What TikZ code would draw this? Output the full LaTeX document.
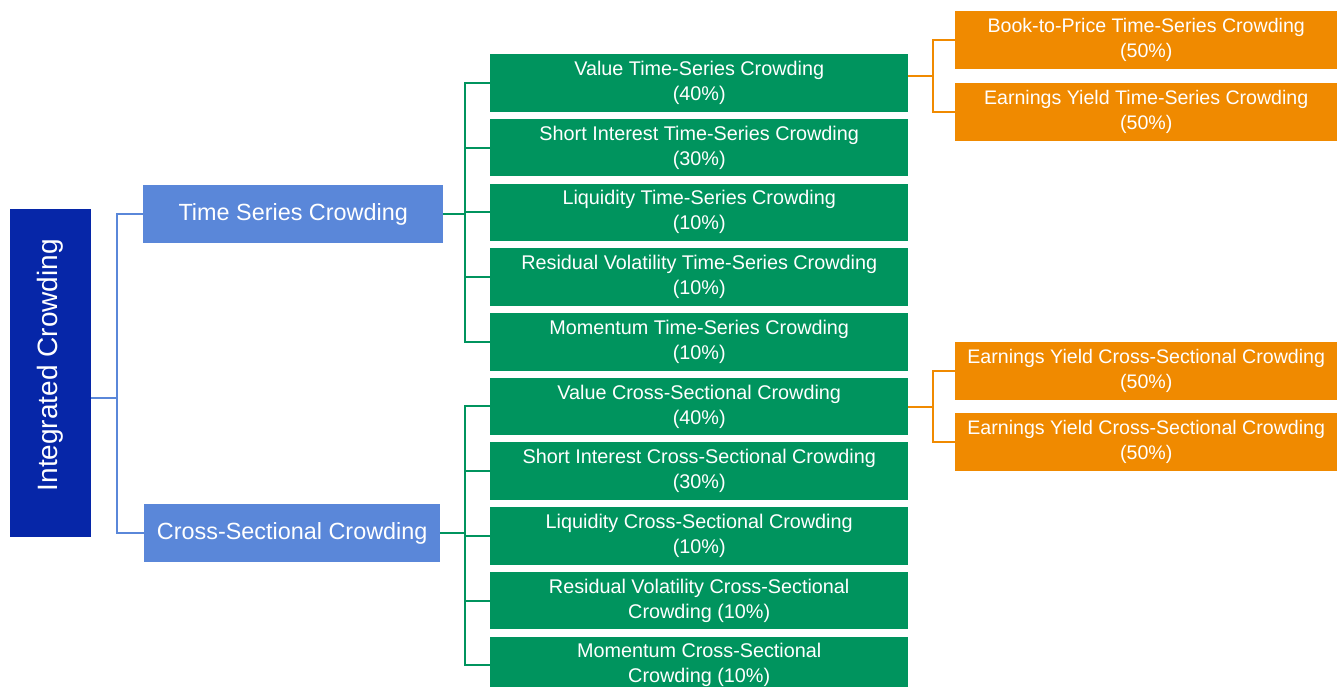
\documentclass[tikz,border=0pt]{standalone}
\usepackage{fontspec}
\usepackage{graphicx}
\setmainfont{Liberation Sans}
\usetikzlibrary{calc}
\definecolor{rootblue}{RGB}{6,38,168}
\definecolor{catblue}{RGB}{90,135,217}
\definecolor{subgreen}{RGB}{0,148,94}
\definecolor{leaforange}{RGB}{240,138,0}
\tikzset{
	anybox/.style={fill=#1,text=white,inner sep=0pt,align=center,anchor=north west},
	rootbox/.style={anybox=rootblue,minimum width=81pt,minimum height=328pt,font=\fontsize{28}{30}\selectfont},
	catbox/.style={anybox=catblue,minimum height=58pt,font=\fontsize{23.4}{26}\selectfont},
	subbox/.style={anybox=subgreen,minimum width=418pt,minimum height=57.5pt,font=\fontsize{19.8}{25}\selectfont},
	leafbox/.style={anybox=leaforange,minimum width=382pt,minimum height=58pt,font=\fontsize{19.6}{25}\selectfont},
	link/.style={draw=#1,line width=2pt}
}
\begin{document}
\begin{tikzpicture}[x=1pt,y=-1pt]
	\useasboundingbox (0,0) rectangle (1337,687);
	\clip (0,0) rectangle (1337,687);
	% root and the two groups
	\node[rootbox] (ic) at (10,209) {\rotatebox{90}{\hspace*{16pt}Integrated Crowding}};
	\node[catbox,minimum width=300pt] (ts) at (143,185) {Time Series Crowding};
	\node[catbox,minimum width=296pt] (cs) at (144,504) {Cross-Sectional Crowding};
	% signals
	\foreach \t [count=\k,evaluate={\y=54+64.7*(\k-1)}] in {
		{Value Time-Series Crowding\\(40\%)},
		{Short Interest Time-Series Crowding\\(30\%)},
		{Liquidity Time-Series Crowding\\(10\%)},
		{Residual Volatility Time-Series Crowding\\(10\%)},
		{Momentum Time-Series Crowding\\(10\%)},
		{Value Cross-Sectional Crowding\\(40\%)},
		{Short Interest Cross-Sectional Crowding\\(30\%)},
		{Liquidity Cross-Sectional Crowding\\(10\%)},
		{Residual Volatility Cross-Sectional\\Crowding (10\%)},
		{Momentum Cross-Sectional\\Crowding (10\%)}}
		\node[subbox] (g\k) at (490,\y) {\t};
	% value components
	\foreach \t/\y [count=\k] in {Book-to-Price Time-Series Crowding/11,
		Earnings Yield Time-Series Crowding/83,
		Earnings Yield Cross-Sectional Crowding/342,
		Earnings Yield Cross-Sectional Crowding/413}
		\node[leafbox] (o\k) at (955,\y) {\t\\(50\%)};
	% connectors
	\foreach \s in {ts,cs}
		\draw[link=catblue] ([yshift=-25pt]ic.east) -- ++(26,0) |- (\s.west);
	\foreach \k in {1,...,5}
		\draw[link=subgreen] (g\k.west) -- ++(-25,0) |- (ts.east);
	\foreach \k in {6,...,10}
		\draw[link=subgreen] (g\k.west) -- ++(-25,0) |- (cs.east);
	\foreach \g/\a/\b in {g1/o1/o2,g6/o3/o4}{
		\coordinate (m) at ($(\a.west)!.5!(\b.west)$);
		\foreach \o in {\a,\b}
			\draw[link=leaforange] (\g.east |- m) -- ++(25,0) |- (\o.west);
	}
\end{tikzpicture}
\end{document}
